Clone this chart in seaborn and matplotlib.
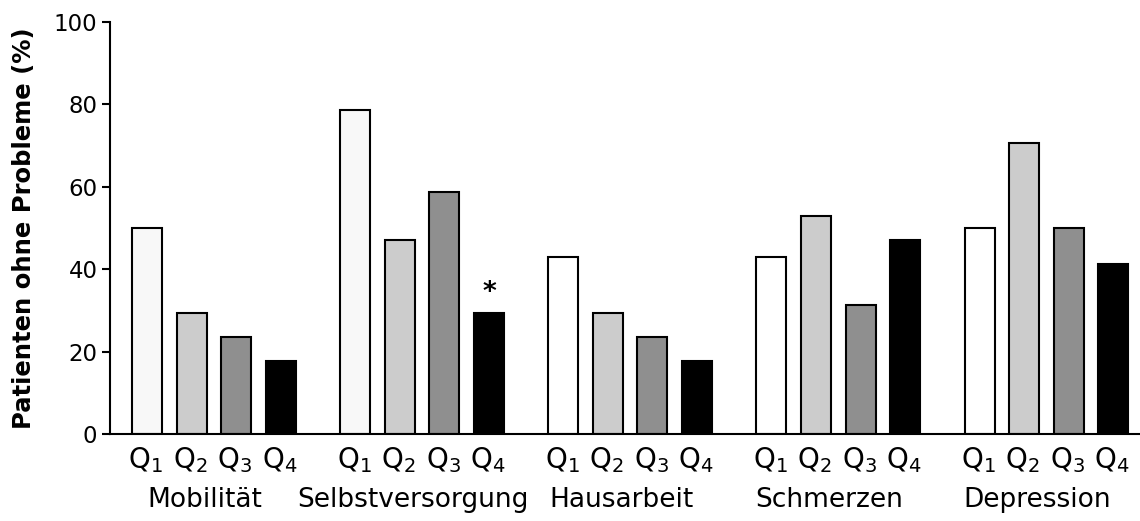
import matplotlib
matplotlib.use("Agg")
import matplotlib.pyplot as plt
from matplotlib.transforms import ScaledTranslation
import seaborn as sns
import pandas as pd

categories = ["Mobilität", "Selbstversorgung", "Hausarbeit", "Schmerzen", "Depression"]
quartiles = ["Q1", "Q2", "Q3", "Q4"]
q_labels = [r"$\mathregular{Q_1}$", r"$\mathregular{Q_2}$", r"$\mathregular{Q_3}$", r"$\mathregular{Q_4}$"]
q1_values = [50.0, 78.6, 42.9, 42.9, 50.0]
q2_values = [29.4, 47.1, 29.4, 52.9, 70.6]
q3_values = [23.5, 58.8, 23.5, 31.3, 50.0]
q4_values = [17.6, 29.4, 17.6, 47.1, 41.2]
q1_fill = ["#f8f8f8", "#f8f8f8", "#ffffff", "#ffffff", "#ffffff"]
significant = [("Selbstversorgung", "Q4", "*")]
y_ticks = [0, 20, 40, 60, 80, 100]
y_label = "Patienten ohne Probleme (%)"

sns.set_style("ticks")
plt.rcParams["font.family"] = ["DejaVu Sans"]
plt.rcParams["mathtext.fontset"] = "dejavusans"
for key in ["text.color", "axes.labelcolor", "xtick.color", "ytick.color", "axes.edgecolor"]:
    plt.rcParams[key] = "black"

rows = []
for q, vals in zip(quartiles, [q1_values, q2_values, q3_values, q4_values]):
    for c, v in zip(categories, vals):
        rows.append({"Kategorie": c, "Quartil": q, "Wert": v})
df = pd.DataFrame(rows)

palette = {"Q1": "#f8f8f8", "Q2": "#cccccc", "Q3": "#8f8f8f", "Q4": "#000000"}

fig = plt.figure(figsize=(11.4, 5.21), dpi=100)
ax = fig.add_axes([110 / 1140, 1 - 434 / 521, 1 - 110 / 1140, (434 - 22) / 521])

sns.barplot(data=df, x="Kategorie", y="Wert", hue="Quartil", order=categories,
            hue_order=quartiles, palette=palette, width=0.856, gap=0.326,
            edgecolor="black", linewidth=1.5, legend=False, ax=ax, errorbar=None)

ax.set_ylim(0, 100)
ax.set_xlim(-0.5, 4.45)
ax.set_yticks(y_ticks)
ax.tick_params(axis="y", labelsize=16.5, length=6, width=1.5, pad=3, direction="out",
               colors="black")
ax.tick_params(axis="x", labelsize=19, length=0, pad=38, labelcolor="black")
ax.set_xlabel("")
ax.set_ylabel(y_label, fontsize=17.5, fontweight="bold", labelpad=13, color="black")
sns.despine(ax=ax, top=True, right=True)
for s in ["left", "bottom"]:
    ax.spines[s].set_linewidth(1.5)
    ax.spines[s].set_color("black")

shift = ScaledTranslation(-9 / 100, 0, fig.dpi_scale_trans)
for lab in ax.get_xticklabels():
    lab.set_transform(lab.get_transform() + shift)

n_cat = len(categories)
bars = [p for p in ax.patches if p.get_height() > 0]
for i, p in enumerate(bars):
    if i < n_cat:
        p.set_facecolor(q1_fill[i])

for i, p in enumerate(bars):
    qi = i // n_cat
    cx = p.get_x() + p.get_width() / 2
    ax.annotate(q_labels[qi], xy=(cx, 0), xycoords="data",
                xytext=(-1, -8), textcoords="offset points",
                ha="center", va="top", fontsize=20, color="black",
                annotation_clip=False)

for cat, q, mark in significant:
    idx = quartiles.index(q) * n_cat + categories.index(cat)
    p = bars[idx]
    ax.annotate(mark, xy=(p.get_x() + p.get_width() / 2, p.get_height()),
                xytext=(0, 5), textcoords="offset points", ha="center",
                va="bottom", fontsize=19, fontweight="bold", color="black")

fig.savefig("out.png", dpi=100)
